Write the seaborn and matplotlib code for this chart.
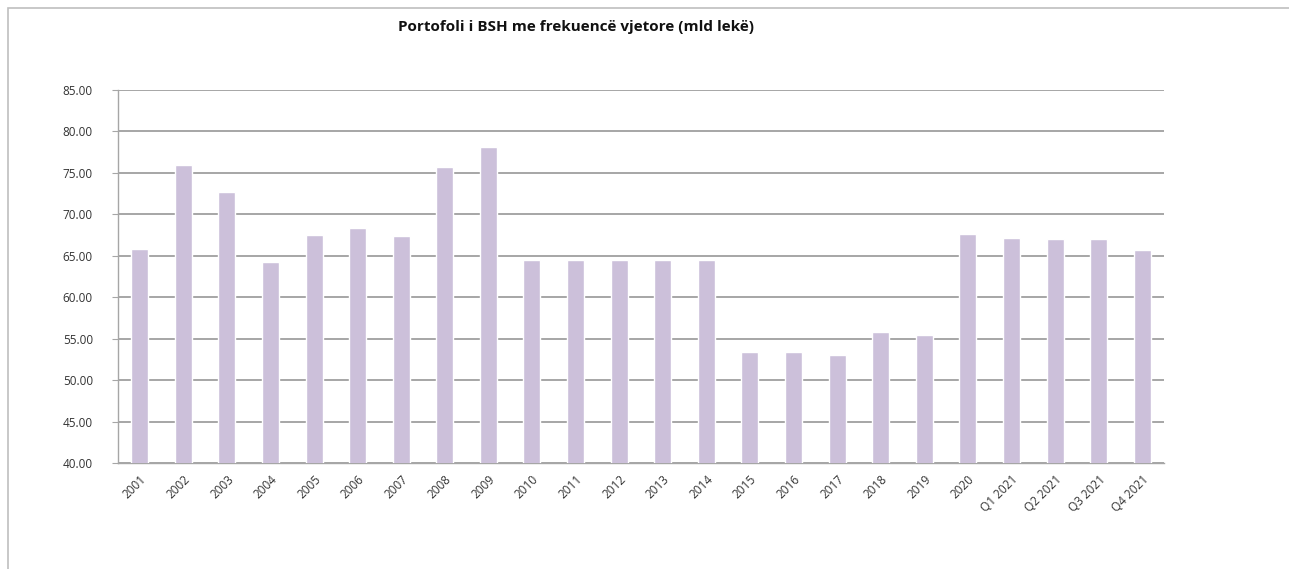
import matplotlib
matplotlib.use("Agg")
import matplotlib.pyplot as plt
import matplotlib.patches as mpatches
import seaborn as sns
import pandas as pd
import numpy as np

periods = ["2001", "2002", "2003", "2004", "2005", "2006", "2007", "2008", "2009",
           "2010", "2011", "2012", "2013", "2014", "2015", "2016", "2017", "2018",
           "2019", "2020", "Q1 2021", "Q2 2021", "Q3 2021", "Q4 2021"]
portfolio = [65.8, 75.9, 72.7, 64.3, 67.5, 68.4, 67.4, 75.7, 78.1,
             64.5, 64.5, 64.5, 64.5, 64.5, 53.4, 53.4, 53.0, 55.8,
             55.4, 67.6, 67.2, 67.0, 67.0, 65.7]
y_ticks = [40, 45, 50, 55, 60, 65, 70, 75, 80, 85]

sns.set_style("white")
plt.rcParams['font.family'] = ['Open Sans', 'DejaVu Sans']

df = pd.DataFrame({"period": periods, "value": portfolio})

fig = plt.figure(figsize=(12.89, 5.69), dpi=100)
ax = fig.add_axes([0.0915, 0.1863, 0.8115, 0.6555])

sns.barplot(data=df, x="period", y="value", color="#CCC0DA", width=0.39,
            saturation=1, ax=ax, zorder=3)

ax.set_ylim(40, 85)
ax.set_yticks(y_ticks)
ax.set_yticklabels([f"{v:.2f}" for v in y_ticks], fontsize=8.5, color="#333333")
ax.set_xlim(-0.5, len(periods) - 0.5)
ax.set_xlabel("")
ax.set_ylabel("")

ax.grid(axis="y", color="#9f9f9f", linewidth=1.3, zorder=0)
ax.set_axisbelow(True)
for side in ["top", "right"]:
    ax.spines[side].set_visible(False)
for side in ["left", "bottom"]:
    ax.spines[side].set_color("#a6a6a6")
    ax.spines[side].set_linewidth(1.0)

# excel style: category ticks on the boundaries
ax.set_xticks(np.arange(len(periods)))
ax.set_xticklabels(periods, rotation=45, ha="right", rotation_mode="anchor",
                   fontsize=8.5, color="#333333")
ax.tick_params(axis="x", which="major", length=0, pad=7)
ax.set_xticks(np.arange(-0.5, len(periods)), minor=True)
ax.tick_params(axis="x", which="minor", length=4, color="#a6a6a6", direction="out")
ax.tick_params(axis="y", length=4, color="#a6a6a6", direction="out", pad=14, left=True)

fig.text(0.447, 0.953, "Portofoli i BSH me frekuencë vjetore (mld lekë)",
         ha="center", va="center", fontsize=11, fontweight="bold", color="#111111")

# chart frame
fig.patches.append(mpatches.Rectangle((0.006, -0.05), 1.2, 1.036,
                                      transform=fig.transFigure, fill=False,
                                      edgecolor="#bfbfbf", linewidth=1.2))

fig.savefig("out.png", dpi=100)
